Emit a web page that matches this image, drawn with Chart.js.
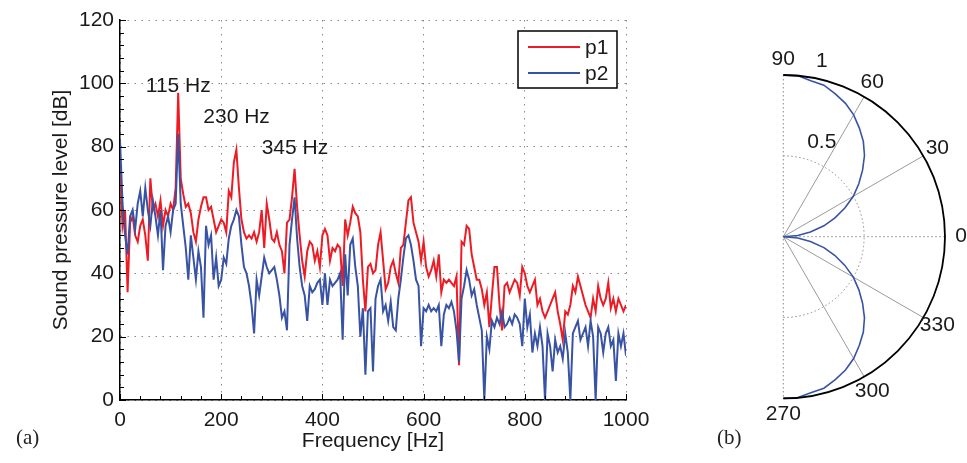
<!DOCTYPE html>
<html>
<head>
<meta charset="utf-8">
<script src="https://cdn.jsdelivr.net/npm/chart.js@4.4.1/dist/chart.umd.min.js"></script>
<style>
  body { margin: 0; background: #fff; }
  #wrap { position: relative; width: 967px; height: 463px; overflow: hidden; }
  canvas { position: absolute; top: 0; }
  #spec { left: 0; }
  #polar { left: 640px; }
  .tag { position: absolute; font: 21px "Liberation Serif", "DejaVu Serif", serif; color: #222; }
</style>
</head>
<body>
<div id="wrap">
  <canvas id="spec" width="660" height="463"></canvas>
  <canvas id="polar" width="327" height="463"></canvas>
  <div class="tag" style="left:16px; top:425px">(a)</div>
  <div class="tag" style="left:717px; top:425px">(b)</div>
</div>
<script>
// (a) spectrum, sampled every 5 Hz from 0 to 1000 Hz
const p1 = [
  73,55,60,34,56,58,52,50,55,57,52,44,70,60,62,58,63,55,60,58,
  62,60,67,97,70,65,61,62,59,53,50,57,61,64,64,60,61,57,53,55,
  57,56,53,66,64,75,79,67,57,53,51,52,51,53,50,53,60,48,62,57,
  51,50,53,49,47,40,56,57,64,73,61,52,44,39,47,50,49,44,47,42,
  52,54,52,44,48,47,49,48,36,57,52,56,61,59,58,53,38,28,42,43,
  40,41,49,53,44,35,37,42,44,40,37,48,49,56,63,64,56,53,50,44,
  50,42,39,41,44,39,46,34,38,37,38,37,36,39,11,50,49,55,54,46,
  42,38,38,35,30,34,23,33,42,42,30,22,36,37,34,36,38,37,33,42,
  40,36,34,36,38,30,32,28,26,28,30,32,34,28,24,19,28,27,30,36,
  34,39,36,33,30,28,26,32,28,36,32,30,32,37,29,32,28,32,30,28,30
];
const p2 = [
  82,62,52,46,58,60,54,62,66,58,67,60,55,63,58,52,60,41,55,58,
  53,60,62,84,62,55,48,38,52,45,38,47,42,26,55,49,52,38,45,36,
  38,45,43,51,55,57,60,58,49,42,40,36,30,21,38,33,39,45,42,40,
  41,42,38,33,26,28,22,49,57,64,51,42,36,33,25,36,34,35,37,38,
  30,40,30,38,36,37,38,40,19,46,33,49,51,42,36,20,29,8,28,29,
  9,32,36,38,28,30,25,31,23,22,32,38,45,51,52,49,44,38,36,17,
  29,28,30,28,29,28,30,17,27,30,29,31,28,22,12,32,36,41,38,33,
  35,30,26,22,0,20,16,25,23,26,24,28,23,24,26,24,27,26,24,17,
  32,23,27,15,21,17,23,17,0,21,17,9,19,15,17,13,21,15,0,21,
  23,25,19,21,23,17,25,20,0,23,21,15,21,23,17,19,6,21,17,21,14
];
const freqStep = 5;
const freqHz = p1.map((_, i) => i * freqStep);
const peakLabels = ['115 Hz', '230 Hz', '345 Hz'];

// (b) directivity pattern, angle in degrees and normalised radius
const polarDeg = [270,275,280,285,290,295,300,305,310,315,320,325,330,335,340,345,350,355,
                  0,5,10,15,20,25,30,35,40,45,50,55,60,65,70,75,80,85,90];
const polarR = [1.00,1.00,0.98,0.97,0.94,0.91,0.87,0.82,0.77,0.71,0.64,0.57,0.50,0.42,0.34,0.26,0.17,0.09,
                0.00,0.09,0.17,0.26,0.34,0.42,0.50,0.57,0.64,0.71,0.77,0.82,0.87,0.91,0.94,0.97,0.98,1.00,1.00];
const polarAngleTicks = [0, 30, 60, 90, 270, 300, 330];
const polarRadiusTicks = [0.5, 1];

Chart.defaults.font.family = '"Liberation Sans", Arial, sans-serif';
Chart.defaults.font.size = 21;
Chart.defaults.color = '#1a1a1a';

const RED = 'rgb(237,28,36)';
const BLUE = 'rgb(57,83,164)';
const FONT = '21px "Liberation Sans", Arial, sans-serif';

const spectrumDecor = {
  id: 'spectrumDecor',
  afterDraw(chart) {
    const { ctx, chartArea: a, scales: { x, y } } = chart;
    ctx.save();
    // inward ticks, MATLAB style
    ctx.strokeStyle = '#000';
    ctx.lineWidth = 1;
    ctx.beginPath();
    for (let f = 0; f <= 1000; f += 40) {
      const px = Math.round(x.getPixelForValue(f)) + 0.5;
      const len = f % 200 === 0 ? 6 : 4;
      ctx.moveTo(px, a.bottom);
      ctx.lineTo(px, a.bottom - len);
    }
    for (let v = 0; v <= 120; v += 4) {
      const py = Math.round(y.getPixelForValue(v)) + 0.5;
      const len = v % 20 === 0 ? 6 : 4;
      ctx.moveTo(a.left, py);
      ctx.lineTo(a.left + len, py);
    }
    ctx.stroke();

    // peak annotations
    const spots = [[51, 99.1], [164.6, 89.4], [280, 79.6]];
    ctx.font = FONT;
    ctx.fillStyle = '#1a1a1a';
    ctx.textAlign = 'left';
    ctx.textBaseline = 'middle';
    peakLabels.forEach((t, i) => {
      ctx.fillText(t, x.getPixelForValue(spots[i][0]), y.getPixelForValue(spots[i][1]));
    });

    // legend box in upper right
    const bw = 99, bh = 57;
    const bx = a.right - 9 - bw, by = a.top + 11;
    ctx.fillStyle = '#fff';
    ctx.fillRect(bx, by, bw, bh);
    ctx.strokeStyle = '#000';
    ctx.lineWidth = 1.5;
    ctx.strokeRect(bx, by, bw, bh);
    const ds = chart.data.datasets;
    ds.forEach((d, i) => {
      const ry = by + 16 + i * 26;
      ctx.strokeStyle = d.borderColor;
      ctx.lineWidth = 2;
      ctx.beginPath();
      ctx.moveTo(bx + 10, ry);
      ctx.lineTo(bx + 62, ry);
      ctx.stroke();
      ctx.fillStyle = '#1a1a1a';
      ctx.fillText(d.label, bx + 67, ry + 1);
    });
    ctx.restore();
  }
};

new Chart(document.getElementById('spec'), {
  type: 'line',
  data: {
    labels: freqHz,
    datasets: [
      { label: 'p1', data: freqHz.map((f, i) => ({ x: f, y: p1[i] })), borderColor: RED,
        borderWidth: 2, pointRadius: 0, tension: 0, order: 1 },
      { label: 'p2', data: freqHz.map((f, i) => ({ x: f, y: p2[i] })), borderColor: BLUE,
        borderWidth: 2, pointRadius: 0, tension: 0, order: 0 }
    ]
  },
  options: {
    responsive: false,
    animation: false,
    layout: { padding: { top: 20, right: 34, left: 0, bottom: 0 } },
    plugins: { legend: { display: false }, tooltip: { enabled: false } },
    scales: {
      x: {
        type: 'linear', min: 0, max: 1000,
        ticks: { stepSize: 200, maxRotation: 0, padding: 8, callback: v => String(v) },
        grid: { color: '#8a8a8a', lineWidth: 1, drawTicks: false },
        border: { color: '#000', width: 1.5, dash: [1.5, 5.5] },
        title: { display: true, text: 'Frequency [Hz]', padding: { top: 0, bottom: 9 } },
        afterFit(s) { s.height = 63; }
      },
      y: {
        min: 0, max: 120,
        ticks: { stepSize: 20, padding: 6, callback: v => String(v) },
        grid: { color: '#8a8a8a', lineWidth: 1, drawTicks: false },
        border: { color: '#000', width: 1.5, dash: [1.5, 5.5] },
        title: { display: true, text: 'Sound pressure level [dB]', padding: { top: 49, bottom: 0 } },
        afterFit(s) { s.width = 120; }
      }
    }
  },
  plugins: [spectrumDecor]
});

// polar panel: cartesian scatter with equal units, grid drawn from the scales
const polarGrid = {
  id: 'polarGrid',
  beforeDatasetsDraw(chart) {
    const { ctx, scales: { x, y } } = chart;
    const cx = x.getPixelForValue(0), cy = y.getPixelForValue(0);
    const R = x.getPixelForValue(1) - cx;
    ctx.save();
    ctx.lineWidth = 1;
    // dotted: half circle at 0.5, vertical axis, 0 deg spoke
    ctx.strokeStyle = '#8a8a8a';
    ctx.setLineDash([1.5, 2.5]);
    ctx.beginPath();
    ctx.arc(cx, cy, R * polarRadiusTicks[0], -Math.PI / 2, Math.PI / 2);
    ctx.stroke();
    ctx.beginPath();
    ctx.moveTo(cx, cy - R); ctx.lineTo(cx, cy + R);
    ctx.moveTo(cx, cy); ctx.lineTo(cx + R, cy);
    ctx.stroke();
    // solid spokes
    ctx.setLineDash([]);
    ctx.strokeStyle = '#9a9a9a';
    ctx.beginPath();
    [30, 60, 300, 330].forEach(d => {
      const t = d * Math.PI / 180;
      ctx.moveTo(cx, cy);
      ctx.lineTo(x.getPixelForValue(Math.cos(t)), y.getPixelForValue(Math.sin(t)));
    });
    ctx.stroke();
    ctx.restore();
  },
  afterDatasetsDraw(chart) {
    const { ctx, scales: { x, y } } = chart;
    const cx = x.getPixelForValue(0), cy = y.getPixelForValue(0);
    const R = x.getPixelForValue(1) - cx;
    ctx.save();
    ctx.strokeStyle = '#000';
    ctx.lineWidth = 1.8;
    ctx.beginPath();
    ctx.arc(cx, cy, R, -Math.PI / 2, Math.PI / 2);
    ctx.stroke();

    ctx.font = FONT;
    ctx.fillStyle = '#1a1a1a';
    ctx.textAlign = 'center';
    ctx.textBaseline = 'middle';
    polarAngleTicks.forEach(d => {
      const t = d * Math.PI / 180;
      ctx.fillText(String(d), x.getPixelForValue(1.1 * Math.cos(t)), y.getPixelForValue(1.1 * Math.sin(t)));
    });
    polarRadiusTicks.forEach(r => {
      ctx.fillText(String(r), x.getPixelForValue(0.238), y.getPixelForValue(r + 0.085));
    });
    ctx.restore();
  }
};

const cxPx = 143.3, cyPx = 236.7, unitPx = 161.7;
const xr = [-0.25, 1.1], yr = [-1.2, 1.2];

new Chart(document.getElementById('polar'), {
  type: 'scatter',
  data: {
    datasets: [{
      label: 'pattern',
      data: polarDeg.map((d, i) => ({
        x: polarR[i] * Math.cos(d * Math.PI / 180),
        y: polarR[i] * Math.sin(d * Math.PI / 180)
      })),
      showLine: true, borderColor: BLUE, borderWidth: 1.6, pointRadius: 0, tension: 0
    }]
  },
  options: {
    responsive: false,
    animation: false,
    layout: {
      padding: {
        left: cxPx + xr[0] * unitPx,
        right: 327 - (cxPx + xr[1] * unitPx),
        top: cyPx - yr[1] * unitPx,
        bottom: 463 - (cyPx - yr[0] * unitPx)
      }
    },
    plugins: { legend: { display: false }, tooltip: { enabled: false } },
    scales: {
      x: { type: 'linear', min: xr[0], max: xr[1], display: false },
      y: { type: 'linear', min: yr[0], max: yr[1], display: false }
    }
  },
  plugins: [polarGrid]
});
</script>
</body>
</html>
